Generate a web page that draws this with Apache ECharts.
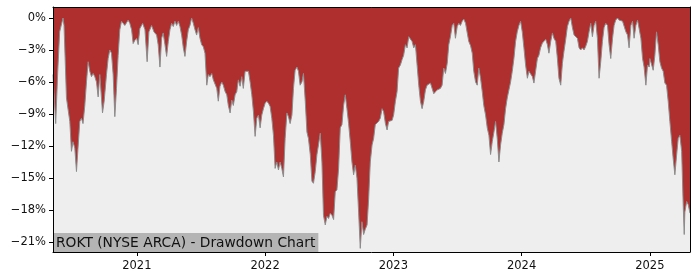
<!DOCTYPE html>
<html>
<head>
<meta charset="utf-8">
<script src="https://cdn.jsdelivr.net/npm/echarts@6/dist/echarts.min.js"></script>
<style>html,body{margin:0;padding:0;background:#fff}#c{width:700px;height:280px}</style>
</head>
<body>
<div id="c"></div>
<script>
// Dates as decimal years
var dates = [
2020.346,2020.367,2020.383,2020.398,2020.424,2020.432,2020.451,2020.477,2020.490,2020.502,
2020.516,2020.529,2020.541,2020.555,2020.568,2020.580,2020.594,2020.607,2020.620,2020.633,
2020.646,2020.659,2020.672,2020.685,2020.698,2020.711,2020.724,2020.732,2020.745,2020.763,
2020.776,2020.789,2020.802,2020.815,2020.828,2020.841,2020.854,2020.867,2020.880,2020.906,
2020.932,2020.945,2020.959,2020.971,2020.984,2020.998,2021.010,2021.023,2021.045,2021.063,
2021.080,2021.094,2021.115,2021.133,2021.141,2021.154,2021.166,2021.180,2021.193,2021.205,
2021.219,2021.232,2021.245,2021.258,2021.271,2021.284,2021.297,2021.310,2021.323,2021.336,
2021.349,2021.362,2021.375,2021.388,2021.401,2021.414,2021.427,2021.440,2021.453,2021.466,
2021.479,2021.492,2021.505,2021.518,2021.531,2021.545,2021.557,2021.570,2021.584,2021.596,
2021.609,2021.623,2021.635,2021.648,2021.662,2021.674,2021.688,2021.701,2021.713,2021.727,
2021.740,2021.752,2021.766,2021.779,2021.791,2021.805,2021.818,2021.830,2021.844,2021.857,
2021.870,2021.883,2021.896,2021.909,2021.922,2021.935,2021.948,2021.961,2021.974,2021.987,
2022.000,2022.013,2022.026,2022.039,2022.052,2022.065,2022.078,2022.091,2022.104,2022.117,
2022.130,2022.143,2022.156,2022.170,2022.182,2022.195,2022.209,2022.221,2022.234,2022.248,
2022.260,2022.273,2022.287,2022.299,2022.313,2022.326,2022.338,2022.352,2022.365,2022.377,
2022.391,2022.404,2022.416,2022.430,2022.443,2022.455,2022.469,2022.482,2022.495,2022.508,
2022.521,2022.534,2022.547,2022.560,2022.573,2022.586,2022.599,2022.612,2022.625,2022.638,
2022.651,2022.664,2022.677,2022.690,2022.703,2022.716,2022.729,2022.742,2022.755,2022.768,
2022.781,2022.795,2022.807,2022.820,2022.834,2022.846,2022.859,2022.873,2022.885,2022.898,
2022.912,2022.924,2022.938,2022.951,2022.963,2022.977,2022.990,2023.002,2023.016,2023.029,
2023.041,2023.055,2023.068,2023.080,2023.094,2023.107,2023.120,2023.133,2023.146,2023.159,
2023.172,2023.185,2023.198,2023.211,2023.224,2023.237,2023.250,2023.263,2023.276,2023.289,
2023.302,2023.315,2023.328,2023.341,2023.354,2023.367,2023.380,2023.393,2023.406,2023.420,
2023.432,2023.445,2023.459,2023.471,2023.484,2023.498,2023.510,2023.523,2023.537,2023.549,
2023.563,2023.576,2023.588,2023.602,2023.615,2023.627,2023.641,2023.654,2023.666,2023.680,
2023.693,2023.705,2023.719,2023.732,2023.745,2023.758,2023.771,2023.784,2023.797,2023.810,
2023.823,2023.830,2023.836,2023.849,2023.862,2023.875,2023.888,2023.901,2023.914,2023.927,
2023.940,2023.953,2023.966,2023.979,2023.992,2024.005,2024.018,2024.031,2024.045,2024.057,
2024.070,2024.084,2024.096,2024.109,2024.123,2024.135,2024.148,2024.162,2024.174,2024.188,
2024.201,2024.213,2024.227,2024.240,2024.252,2024.266,2024.279,2024.291,2024.305,2024.318,
2024.330,2024.344,2024.357,2024.370,2024.383,2024.396,2024.409,2024.422,2024.435,2024.448,
2024.461,2024.474,2024.487,2024.500,2024.513,2024.526,2024.539,2024.552,2024.565,2024.578,
2024.591,2024.604,2024.617,2024.630,2024.643,2024.656,2024.670,2024.682,2024.695,2024.709,
2024.721,2024.734,2024.748,2024.760,2024.773,2024.787,2024.799,2024.813,2024.826,2024.838,
2024.852,2024.865,2024.877,2024.891,2024.904,2024.916,2024.930,2024.943,2024.955,2024.969,
2024.982,2024.995,2025.000,2025.013,2025.026,2025.039,2025.052,2025.065,2025.078,2025.091,
2025.104,2025.117,2025.130,2025.143,2025.156,2025.170,2025.182,2025.195,2025.209,2025.221,
2025.234,2025.248,2025.260,2025.268,2025.273,2025.287,2025.299,2025.313
];
// Drawdown values in percent
var drawdown = [
-5.3,-9.9,-5.0,-1.3,0,-0.7,-7.5,-9.7,-12.5,-11.6,
-12.2,-14.4,-12.2,-9.7,-9.4,-9.9,-8.2,-6.0,-4.1,-5.0,
-5.5,-5.2,-5.5,-6.0,-7.4,-5.3,-7.5,-8.9,-7.8,-5.3,
-3.8,-3.0,-3.3,-5.3,-9.25,-6.6,-3.5,-1.1,-0.3,-0.7,
-0.2,-0.5,-1.1,-2.4,-2.1,-1.9,-2.5,-1.0,-0.5,-1.1,
-4.1,-1.3,-0.7,-1.3,-1.3,-1.6,-2.5,-4.6,-1.9,-1.4,
-2.5,-3.6,-2.2,-1.1,-0.5,-0.8,-0.3,-0.7,-0.3,-0.8,
-1.6,-2.8,-3.6,-2.2,-1.1,-0.7,0,-0.5,-1.1,-1.6,
-0.9,-1.9,-2.5,-2.7,-3.3,-6.3,-5.3,-5.5,-5.2,-5.8,
-5.7,-6.6,-7.8,-6.4,-6.0,-6.3,-6.9,-7.2,-8.2,-8.9,
-7.7,-8.2,-7.2,-6.9,-5.8,-6.4,-5.5,-6.6,-5.0,-4.9,
-5.0,-6.0,-7.2,-8.8,-11.1,-9.4,-9.1,-10.3,-9.1,-8.5,
-8.0,-7.8,-8.0,-8.3,-9.4,-11.0,-14.1,-13.5,-14.25,-13.5,
-14.1,-14.9,-11.3,-8.9,-9.25,-9.9,-9.1,-6.6,-4.9,-4.6,
-5.0,-6.3,-6.0,-5.2,-7.8,-10.7,-11.3,-12.8,-15.3,-15.5,
-14.4,-12.8,-11.9,-10.8,-13.5,-18.5,-19.4,-18.6,-18.8,-18.3,
-18.5,-18.9,-16.3,-16.1,-14.1,-10.3,-10.0,-8.2,-7.2,-8.5,
-9.9,-11.6,-13.5,-14.7,-13.8,-15.0,-18.2,-21.6,-19.1,-20.3,
-19.8,-19.4,-17.0,-13.5,-11.9,-11.3,-10.0,-9.9,-9.7,-9.4,
-8.5,-8.8,-9.9,-10.5,-9.7,-9.6,-9.6,-9.1,-7.8,-6.9,
-4.7,-4.4,-3.9,-3.5,-2.5,-2.8,-1.75,-1.6,-2.2,-2.8,
-2.5,-4.4,-6.3,-7.8,-8.5,-7.8,-6.75,-6.3,-6.4,-6.1,
-6.0,-7.1,-7.2,-6.75,-6.9,-6.6,-6.3,-4.7,-5.2,-4.25,
-2.5,-1.75,-0.7,-0.5,-1.9,-0.8,-0.5,-0.7,-0.3,-0.1,
-0.5,-1.4,-2.2,-2.6,-3.3,-5.0,-6.0,-6.3,-4.7,-5.65,
-6.9,-8.2,-9.1,-10.3,-11.0,-12.8,-11.6,-10.7,-9.7,-11.3,
-13.5,-13.6,-11.9,-10.8,-10.0,-8.5,-7.5,-6.75,-6.0,-5.0,
-3.8,-2.2,-1.3,-0.7,-0.3,-1.3,-2.8,-4.4,-5.65,-5.0,
-5.0,-5.5,-6.1,-5.0,-3.8,-3.5,-2.8,-2.35,-2.2,-2.0,
-2.5,-3.3,-2.2,-1.4,-1.9,-2.2,-3.8,-5.65,-6.3,-4.25,
-3.15,-2.0,-0.8,-0.3,0,-0.9,-1.6,-1.6,-1.9,-2.8,
-3.0,-2.8,-3.0,-2.65,-2.2,-1.3,-0.5,-1.75,-0.7,-0.3,
-1.9,-5.65,-4.1,-2.2,-0.9,-0.5,-0.7,-2.5,-3.8,-1.9,
-0.7,-0.2,0,-0.2,-0.2,-0.3,-0.3,-1.3,-1.6,-2.8,
-0.7,-0.3,-1.9,-0.7,-0.2,-0.3,-1.9,-3.8,-4.6,-6.3,
-4.4,-4.6,-3.8,-3.8,-4.9,-3.5,-1.3,-2.5,-4.1,-4.7,
-5.0,-6.1,-6.3,-7.8,-9.7,-11.6,-13.2,-14.7,-12.8,-11.3,
-11.0,-12.5,-17.5,-20.3,-18.2,-17.2,-17.5,-18.3
];
var xTicks = [2021, 2022, 2023, 2024, 2025];
var yTicks = [0, -3, -6, -9, -12, -15, -18, -21];
var titleText = 'ROKT (NYSE ARCA) - Drawdown Chart';

var seriesData = dates.map(function (d, i) { return [d, drawdown[i]]; });

var chart = echarts.init(document.getElementById('c'), null, {renderer: 'canvas'});
var font = 'DejaVu Sans';
chart.setOption({
  animation: false,
  backgroundColor: '#ffffff',
  grid: {left: 53, right: 10, top: 7, bottom: 28, show: true, backgroundColor: '#EEEEEE', borderColor: '#000', borderWidth: 0, z: 0},
  title: {
    text: titleText, left: 54, top: 233, z: 4,
    backgroundColor: '#B4B4B4', padding: [2, 3, 1, 2],
    textStyle: {fontFamily: font, fontSize: 13.8, fontWeight: 'normal', color: '#111', lineHeight: 16}
  },
  xAxis: [{
    type: 'value', min: 'dataMin', max: 'dataMax', z: 10,
    axisLine: {show: true, onZero: false, lineStyle: {color: '#000', width: 1}},
    axisTick: {show: true, customValues: xTicks, length: 4, lineStyle: {color: '#000'}},
    axisLabel: {customValues: xTicks, fontFamily: font, fontSize: 11.5, color: '#111', margin: 8,
      formatter: function (v) { return String(Math.round(v)); }},
    splitLine: {show: false}
  }, {
    type: 'value', position: 'top', min: 'dataMin', max: 'dataMax', z: 10,
    axisLine: {show: true, onZero: false, lineStyle: {color: '#000', width: 1}},
    axisTick: {show: false}, axisLabel: {show: false}, splitLine: {show: false}
  }],
  yAxis: [{
    type: 'value', min: -21.94, max: 1.03, z: 10,
    axisLine: {show: true, onZero: false, lineStyle: {color: '#000', width: 1}},
    axisTick: {show: true, customValues: yTicks, length: 4, lineStyle: {color: '#000'}},
    axisLabel: {customValues: yTicks, fontFamily: font, fontSize: 11.5, color: '#111', margin: 7,
      formatter: function (v) { return (v < 0 ? '\u2212' + Math.abs(v) : String(v)) + '%'; }},
    splitLine: {show: false}
  }, {
    type: 'value', position: 'right', min: -21.94, max: 1.03, z: 10,
    axisLine: {show: true, onZero: false, lineStyle: {color: '#000', width: 1}},
    axisTick: {show: false}, axisLabel: {show: false}, splitLine: {show: false}
  }],
  series: [{
    type: 'line', data: seriesData, showSymbol: false, smooth: false,
    xAxisIndex: 0, yAxisIndex: 0,
    lineStyle: {color: '#8c8c8c', width: 1},
    areaStyle: {color: '#AF2E2E', opacity: 1, origin: 'end'},
    z: 2
  }]
});
</script>
</body>
</html>
